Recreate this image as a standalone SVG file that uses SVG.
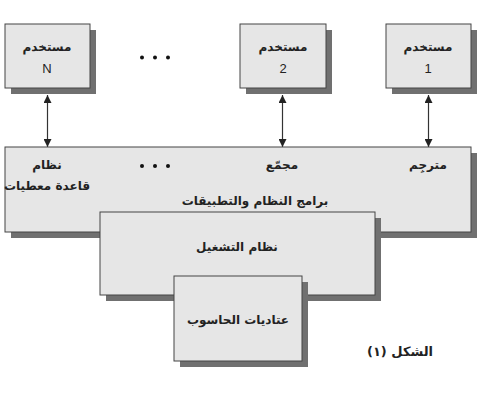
<svg xmlns="http://www.w3.org/2000/svg" width="480" height="395" viewBox="0 0 480 395">
<defs>
<style>
.box{fill:#e6e6e6;stroke:#444;stroke-width:1}
.sh{fill:#707070}
.t{font-family:"DejaVu Sans","Noto Sans",sans-serif;font-size:12px;font-weight:bold;fill:#222;text-anchor:middle;direction:rtl}
.n{font-family:"Liberation Sans",Arial,sans-serif;font-size:13px;fill:#222;text-anchor:middle}
.c{stroke:#333;stroke-width:1.2;fill:none;marker-start:url(#ah);marker-end:url(#ah)}
.dot{fill:#111}
</style>
<marker id="ah" viewBox="0 0 10 10" refX="10" refY="5" markerWidth="8" markerHeight="8" orient="auto-start-reverse" markerUnits="userSpaceOnUse">
<path d="M0,0 L10,5 L0,10 z" fill="#222"/>
</marker>
</defs>
<rect width="480" height="395" fill="#fff"/>
<g id="userN">
<rect class="sh" x="11" y="30" width="85" height="64"/>
<rect class="box" x="5" y="24" width="85" height="64"/>
<text class="t" x="47" y="51">مستخدم</text>
<text class="n" x="47" y="73">N</text>
</g>
<g id="user2">
<rect class="sh" x="246" y="30" width="86" height="64"/>
<rect class="box" x="240" y="24" width="86" height="64"/>
<text class="t" x="283" y="51">مستخدم</text>
<text class="n" x="283" y="73">2</text>
</g>
<g id="user1">
<rect class="sh" x="392" y="30" width="85" height="64"/>
<rect class="box" x="386" y="24" width="85" height="64"/>
<text class="t" x="428" y="51">مستخدم</text>
<text class="n" x="428" y="73">1</text>
</g>
<g id="dotsTop">
<circle class="dot" cx="142" cy="57.5" r="2"/>
<circle class="dot" cx="155" cy="57.5" r="2"/>
<circle class="dot" cx="168" cy="57.5" r="2"/>
</g>
<g id="connectors">
<line class="c" x1="47.5" y1="95" x2="47.5" y2="147"/>
<line class="c" x1="282.5" y1="95" x2="282.5" y2="147"/>
<line class="c" x1="428.5" y1="95" x2="428.5" y2="147"/>
</g>
<g id="apps">
<rect class="sh" x="11" y="153" width="466" height="85"/>
<rect class="box" x="5" y="147" width="466" height="85"/>
<text class="t" x="428" y="169">مترجِم</text>
<text class="t" x="282" y="169">مجمّع</text>
<text class="t" x="47" y="169">نظام</text>
<text class="t" x="47" y="190">قاعدة معطيات</text>
<text class="t" x="255" y="205">برامج النظام والتطبيقات</text>
<circle class="dot" cx="142" cy="166" r="2"/>
<circle class="dot" cx="155" cy="166" r="2"/>
<circle class="dot" cx="168" cy="166" r="2"/>
</g>
<g id="os">
<rect class="sh" x="106" y="218" width="275" height="83"/>
<rect class="box" x="100" y="212" width="275" height="83"/>
<text class="t" x="237" y="251">نظام التشغيل</text>
</g>
<g id="hardware">
<rect class="sh" x="180" y="282" width="128" height="85"/>
<rect class="box" x="174" y="276" width="128" height="85"/>
<text class="t" x="238" y="324">عتاديات الحاسوب</text>
</g>
<text class="t" x="400" y="356" style="font-size:13px">الشكل (١)</text>
</svg>
